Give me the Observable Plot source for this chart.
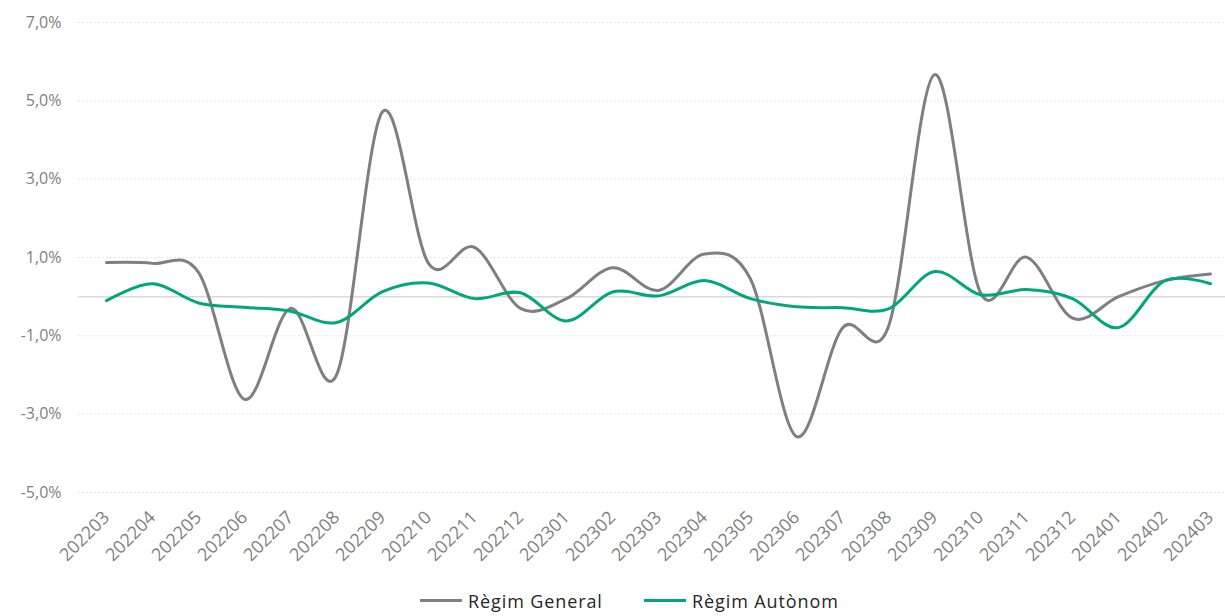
<!DOCTYPE html>
<html>
<head>
<meta charset="utf-8">
<script src="https://cdn.jsdelivr.net/npm/d3@7"></script>
<script src="https://cdn.jsdelivr.net/npm/@observablehq/plot@0.6"></script>
<style>
  html, body { margin: 0; padding: 0; background: #ffffff; }
  body { width: 1225px; height: 616px; overflow: hidden; font-family: "Open Sans", sans-serif; }
  #legend { position: relative; height: 31px; width: 1225px; }
  .item { position: absolute; top: 0; height: 31px; display: flex; align-items: center; font-size: 18px; letter-spacing: 0.9px; color: #262626; }
  .sw { width: 42px; height: 3px; margin-right: 6px; }
</style>
</head>
<body>
<div id="chart"></div>
<div id="legend"></div>
<script>
const months = ["202203","202204","202205","202206","202207","202208","202209","202210","202211","202212",
  "202301","202302","202303","202304","202305","202306","202307","202308","202309","202310","202311","202312",
  "202401","202402","202403"];
const regimGeneral = [0.87, 0.85, 0.62, -2.62, -0.30, -2.00, 4.72, 0.85, 1.26, -0.30,
  -0.05, 0.74, 0.16, 1.09, 0.45, -3.57, -0.80, -0.76, 5.67, 0.10, 1.01, -0.55,
  0.00, 0.41, 0.58];
const regimAutonom = [-0.10, 0.33, -0.16, -0.27, -0.37, -0.66, 0.13, 0.35, -0.05, 0.10,
  -0.62, 0.12, 0.02, 0.41, -0.05, -0.26, -0.28, -0.31, 0.64, 0.05, 0.18, -0.05,
  -0.79, 0.40, 0.33];
const seriesNames = ["Règim General", "Règim Autònom"];
const seriesColors = ["#7f7f7f", "#00a67e"];
const yTicks = [-5, -3, -1, 1, 3, 5, 7];

const data = [
  ...months.map((m, i) => ({month: m, value: regimGeneral[i], serie: seriesNames[0]})),
  ...months.map((m, i) => ({month: m, value: regimAutonom[i], serie: seriesNames[1]}))
];

const fmt = d => d.toFixed(1).replace(".", ",") + "%";

const chart = Plot.plot({
  width: 1225,
  height: 585,
  marginLeft: 78,
  marginRight: 0,
  marginTop: 22,
  marginBottom: 93,
  style: {fontFamily: "Open Sans, sans-serif", fontSize: "16px", color: "#7f7f7f", background: "#ffffff"},
  x: {type: "point", domain: months, padding: 0, insetLeft: 23, insetRight: 10, label: null},
  y: {domain: [-5, 7], label: null},
  color: {domain: seriesNames, range: seriesColors},
  marks: [
    Plot.ruleY(yTicks, {stroke: "#d9d9d9", strokeWidth: 1, strokeDasharray: "1.5,2.5"}),
    Plot.ruleY([0], {stroke: "#d9d9d9", strokeWidth: 1.5}),
    Plot.axisY({ticks: yTicks, tickFormat: fmt, tickSize: 0, tickPadding: 17, fontSize: 16, fill: "#7f7f7f", label: null}),
    Plot.axisX({tickSize: 0, tickRotate: -45, tickPadding: 22, fontSize: 18, fill: "#7f7f7f", label: null}),
    Plot.line(data.filter(d => d.serie === seriesNames[0]), {x: "month", y: "value", stroke: seriesColors[0], strokeWidth: 3, curve: "cardinal", tension: 0}),
    Plot.line(data.filter(d => d.serie === seriesNames[1]), {x: "month", y: "value", stroke: seriesColors[1], strokeWidth: 3, curve: "cardinal", tension: 0})
  ]
});
document.getElementById("chart").appendChild(chart);

const legend = document.getElementById("legend");
const lefts = [420, 644];
seriesNames.forEach((name, i) => {
  const item = document.createElement("div");
  item.className = "item";
  item.style.left = lefts[i] + "px";
  const sw = document.createElement("span");
  sw.className = "sw";
  sw.style.background = seriesColors[i];
  const tx = document.createElement("span");
  tx.textContent = name;
  item.appendChild(sw);
  item.appendChild(tx);
  legend.appendChild(item);
});
</script>
</body>
</html>
